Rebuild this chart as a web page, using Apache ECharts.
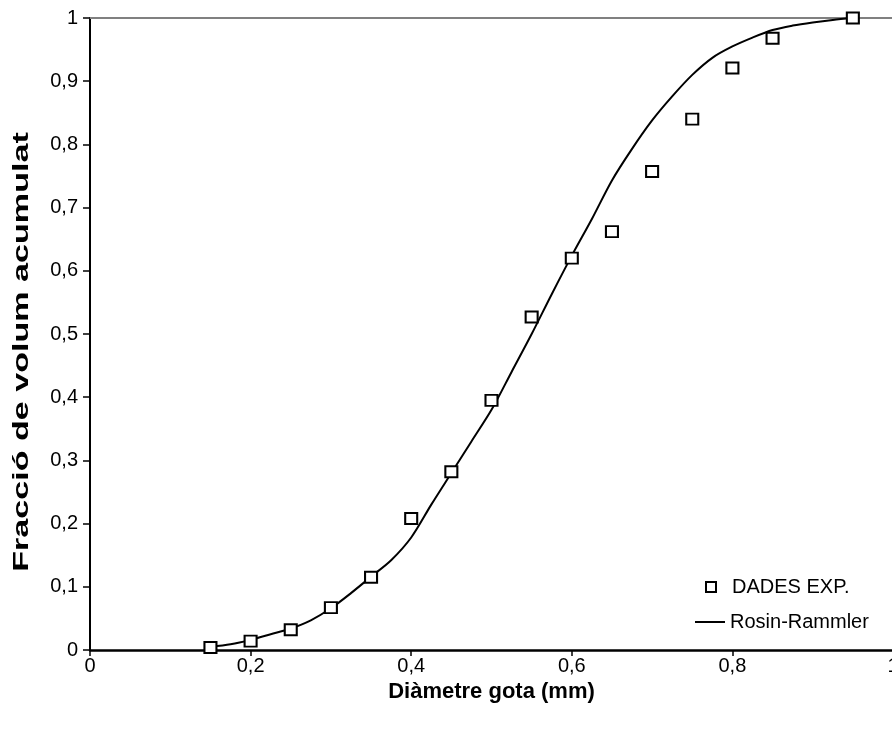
<!DOCTYPE html>
<html>
<head>
<meta charset="utf-8">
<script src="https://cdn.jsdelivr.net/npm/echarts@6/dist/echarts.min.js"></script>
<style>html,body{margin:0;padding:0;background:#fff;}#c{width:892px;height:735px;}</style>
</head>
<body>
<div id="c"></div>
<script>
// Experimental data (DADES EXP.)
const expX = [0.15, 0.2, 0.25, 0.3, 0.35, 0.4, 0.45, 0.5, 0.55, 0.6, 0.65, 0.7, 0.75, 0.8, 0.85, 0.95];
const expY = [0.004, 0.014, 0.032, 0.067, 0.115, 0.208, 0.282, 0.395, 0.527, 0.620, 0.662, 0.757, 0.840, 0.921, 0.968, 1.0];
// Rosin-Rammler curve
const rrX = [0.15, 0.175, 0.2, 0.225, 0.25, 0.275, 0.3, 0.325, 0.35, 0.375, 0.4, 0.425, 0.45, 0.475, 0.5, 0.525, 0.55, 0.575, 0.6, 0.625, 0.65, 0.675, 0.7, 0.725, 0.75, 0.775, 0.8, 0.825, 0.85, 0.875, 0.9, 0.925, 0.95];
const rrY = [0.005, 0.009, 0.016, 0.025, 0.034, 0.047, 0.066, 0.09, 0.116, 0.142, 0.178, 0.23, 0.28, 0.33, 0.38, 0.44, 0.50, 0.563, 0.624, 0.682, 0.743, 0.793, 0.838, 0.876, 0.91, 0.937, 0.955, 0.969, 0.981, 0.988, 0.993, 0.997, 1.0];
const seriesNames = ['DADES EXP.', 'Rosin-Rammler'];
const xTitle = 'Diàmetre gota (mm)';
const yTitle = 'Fracció de volum acumulat';

const fmt = v => String(Math.round(v * 10) / 10).replace('.', ',');
const font = 'Arial, "Liberation Sans", sans-serif';

const chart = echarts.init(document.getElementById('c'), null, {renderer: 'canvas'});
chart.setOption({
  animation: false,
  backgroundColor: '#ffffff',
  grid: {left: 90, width: 803, top: 18, bottom: 85, containLabel: false, outerBoundsMode: 'none'},
  xAxis: [{
    type: 'value', min: 0, max: 1, interval: 0.2,
    name: xTitle, nameLocation: 'middle', nameGap: 29,
    nameTextStyle: {fontFamily: font, fontWeight: 'bold', fontSize: 22, color: '#000'},
    axisLine: {lineStyle: {color: '#000', width: 2.5}},
    axisTick: {show: true, inside: false, length: 6, lineStyle: {color: '#000', width: 1.5}},
    axisLabel: {formatter: fmt, fontFamily: font, fontSize: 20, color: '#000', margin: 6},
    splitLine: {show: false}
  }, {
    type: 'value', min: 0, max: 1, position: 'top',
    axisLine: {show: true, lineStyle: {color: '#808080', width: 2}},
    axisTick: {show: false}, axisLabel: {show: false}, splitLine: {show: false}
  }],
  yAxis: {
    type: 'value', min: 0, max: 1, interval: 0.1,
    axisLine: {show: true, lineStyle: {color: '#000', width: 2}},
    axisTick: {show: true, inside: false, length: 7, lineStyle: {color: '#000', width: 1.5}},
    axisLabel: {formatter: fmt, fontFamily: font, fontSize: 20, color: '#000', margin: 12},
    splitLine: {show: false}
  },
  graphic: [{
    type: 'text',
    x: 22, y: 352,
    rotation: Math.PI / 2, scaleX: 1.55, scaleY: 1,
    style: {text: yTitle, fontFamily: font, fontWeight: 'bold', fontSize: 22, fill: '#000', align: 'center', verticalAlign: 'middle'}
  }],
  legend: [{
    data: [seriesNames[0]], orient: 'vertical', left: 700, top: 572,
    itemWidth: 10, itemHeight: 10,
    textStyle: {fontFamily: font, fontSize: 20, color: '#000', padding: [0, 0, 0, 11]}
  }, {
    data: [{name: seriesNames[1], icon: 'path://M0,0L30,0L30,2L0,2Z'}], orient: 'vertical', left: 690, top: 607,
    itemWidth: 30, itemHeight: 2,
    textStyle: {fontFamily: font, fontSize: 20, color: '#000'}
  }],
  series: [{
    name: seriesNames[1], type: 'line', smooth: 0.3,
    data: rrX.map((x, i) => [x, rrY[i]]),
    showSymbol: false, symbol: 'none',
    lineStyle: {color: '#000', width: 2},
    itemStyle: {color: '#000'},
    z: 2
  }, {
    name: seriesNames[0], type: 'scatter',
    data: expX.map((x, i) => [x, expY[i]]),
    symbol: 'rect', symbolSize: [12, 11],
    itemStyle: {color: '#fff', borderColor: '#000', borderWidth: 2, opacity: 1},
    z: 3
  }]
});
</script>
</body>
</html>
